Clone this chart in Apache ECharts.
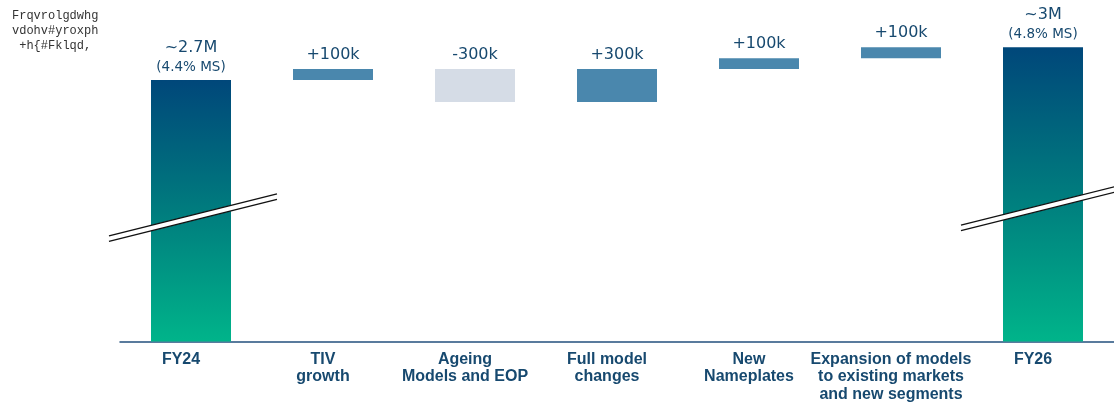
<!DOCTYPE html>
<html><head><meta charset="utf-8">
<script src="https://cdn.jsdelivr.net/npm/echarts@6/dist/echarts.min.js"></script>
<style>html,body{margin:0;padding:0;background:#fff}#c{width:1114px;height:403px}</style>
</head><body><div id="c"></div>
<script>
// ---- data (thousands of units) ----
const categories = ['FY24','TIV\ngrowth','Ageing\nModels and EOP','Full model\nchanges','New\nNameplates','Expansion of models\nto existing markets\nand new segments','FY26'];
const values = [2700, 100, -300, 300, 100, 100, 3000];
const isTotal = [true, false, false, false, false, false, true];
const valueLabels = ['~2.7M','+100k','-300k','+300k','+100k','+100k','~3M'];
const shareLabels = ['(4.4% MS)','','','','','','(4.8% MS)'];
const titleLines = ['Frqvrolgdwhg','vdohv#yroxph','+h{#Fklqd,'];
const breakCats = [0, 6];
const breakAt = [1443, 1541];

const AXIS_MIN = 320, AXIS_MAX = 3320;
const TXT = '#17496f';

// waterfall decomposition
const base = [], vis = [];
let running = 0;
values.forEach((v, i) => {
  if (isTotal[i]) { base.push(AXIS_MIN); vis.push(v - AXIS_MIN); running = v; }
  else if (v >= 0) { base.push(running); vis.push(v); running += v; }
  else { running += v; base.push(running); vis.push(-v); }
});

const totalGrad = new echarts.graphic.LinearGradient(0, 0, 0, 1, [
  {offset: 0, color: '#00477a'}, {offset: 0.5, color: '#007c7e'}, {offset: 1, color: '#00b48a'}
]);

const visData = vis.map((v, i) => ({
  value: v,
  itemStyle: {color: isTotal[i] ? totalGrad : (values[i] >= 0 ? '#4a87ad' : '#d5dce6')},
  label: {formatter: shareLabels[i] ? '{a|' + valueLabels[i] + '}\n{b|' + shareLabels[i] + '}' : '{a|' + valueLabels[i] + '}'}
}));

const chart = echarts.init(document.getElementById('c'), null, {renderer: 'canvas'});
chart.setOption({
  animation: false,
  backgroundColor: '#fff',
  graphic: [{
    type: 'text', left: 12, top: 8,
    style: {text: titleLines.join('\n'), fontFamily: 'Liberation Mono', fontSize: 12, lineHeight: 15, fill: '#333', textAlign: 'center', x: 44}
  }],
  grid: {left: 120, width: 996, top: 12, bottom: 61, containLabel: false},
  xAxis: {
    type: 'category', data: categories,
    axisLine: {lineStyle: {color: '#23507d', width: 1.5}},
    axisTick: {show: false},
    axisLabel: {interval: 0, color: TXT, fontFamily: 'Liberation Sans', fontWeight: 'bold', fontSize: 16, lineHeight: 17.5, margin: 9, padding: [0, 20, 0, 0]}
  },
  yAxis: {type: 'value', min: AXIS_MIN, max: AXIS_MAX, show: false, splitLine: {show: false}},
  series: [
    {type: 'bar', stack: 'w', data: base, barWidth: 80, itemStyle: {color: 'transparent'}, silent: true},
    {type: 'bar', stack: 'w', data: visData, barWidth: 80,
      label: {show: true, position: 'top', distance: 4,
        rich: {
          a: {fontFamily: 'DejaVu Sans', fontSize: 16, color: TXT, lineHeight: 20},
          b: {fontFamily: 'DejaVu Sans', fontSize: 13.5, color: TXT, lineHeight: 18}
        }}
    },
    {type: 'custom', coordinateSystem: 'cartesian2d', z: 10, clip: false,
      data: breakCats.map((c, i) => [c, breakAt[i]]),
      renderItem: function (params, api) {
        const p = api.coord([api.value(0), api.value(1)]);
        const L = -82, R = 86, k = -0.25, g = 2.8;
        const x1 = p[0] + L, x2 = p[0] + R;
        const y1 = p[1] + k * L, y2 = p[1] + k * R;
        return {type: 'group', children: [
          {type: 'polygon', shape: {points: [[x1, y1 - g], [x2, y2 - g], [x2, y2 + g], [x1, y1 + g]]}, style: {fill: '#fff'}},
          {type: 'line', shape: {x1: x1, y1: y1 - g, x2: x2, y2: y2 - g}, style: {stroke: '#111', lineWidth: 1.3}},
          {type: 'line', shape: {x1: x1, y1: y1 + g, x2: x2, y2: y2 + g}, style: {stroke: '#111', lineWidth: 1.3}}
        ]};
      }
    }
  ]
});
</script></body></html>
